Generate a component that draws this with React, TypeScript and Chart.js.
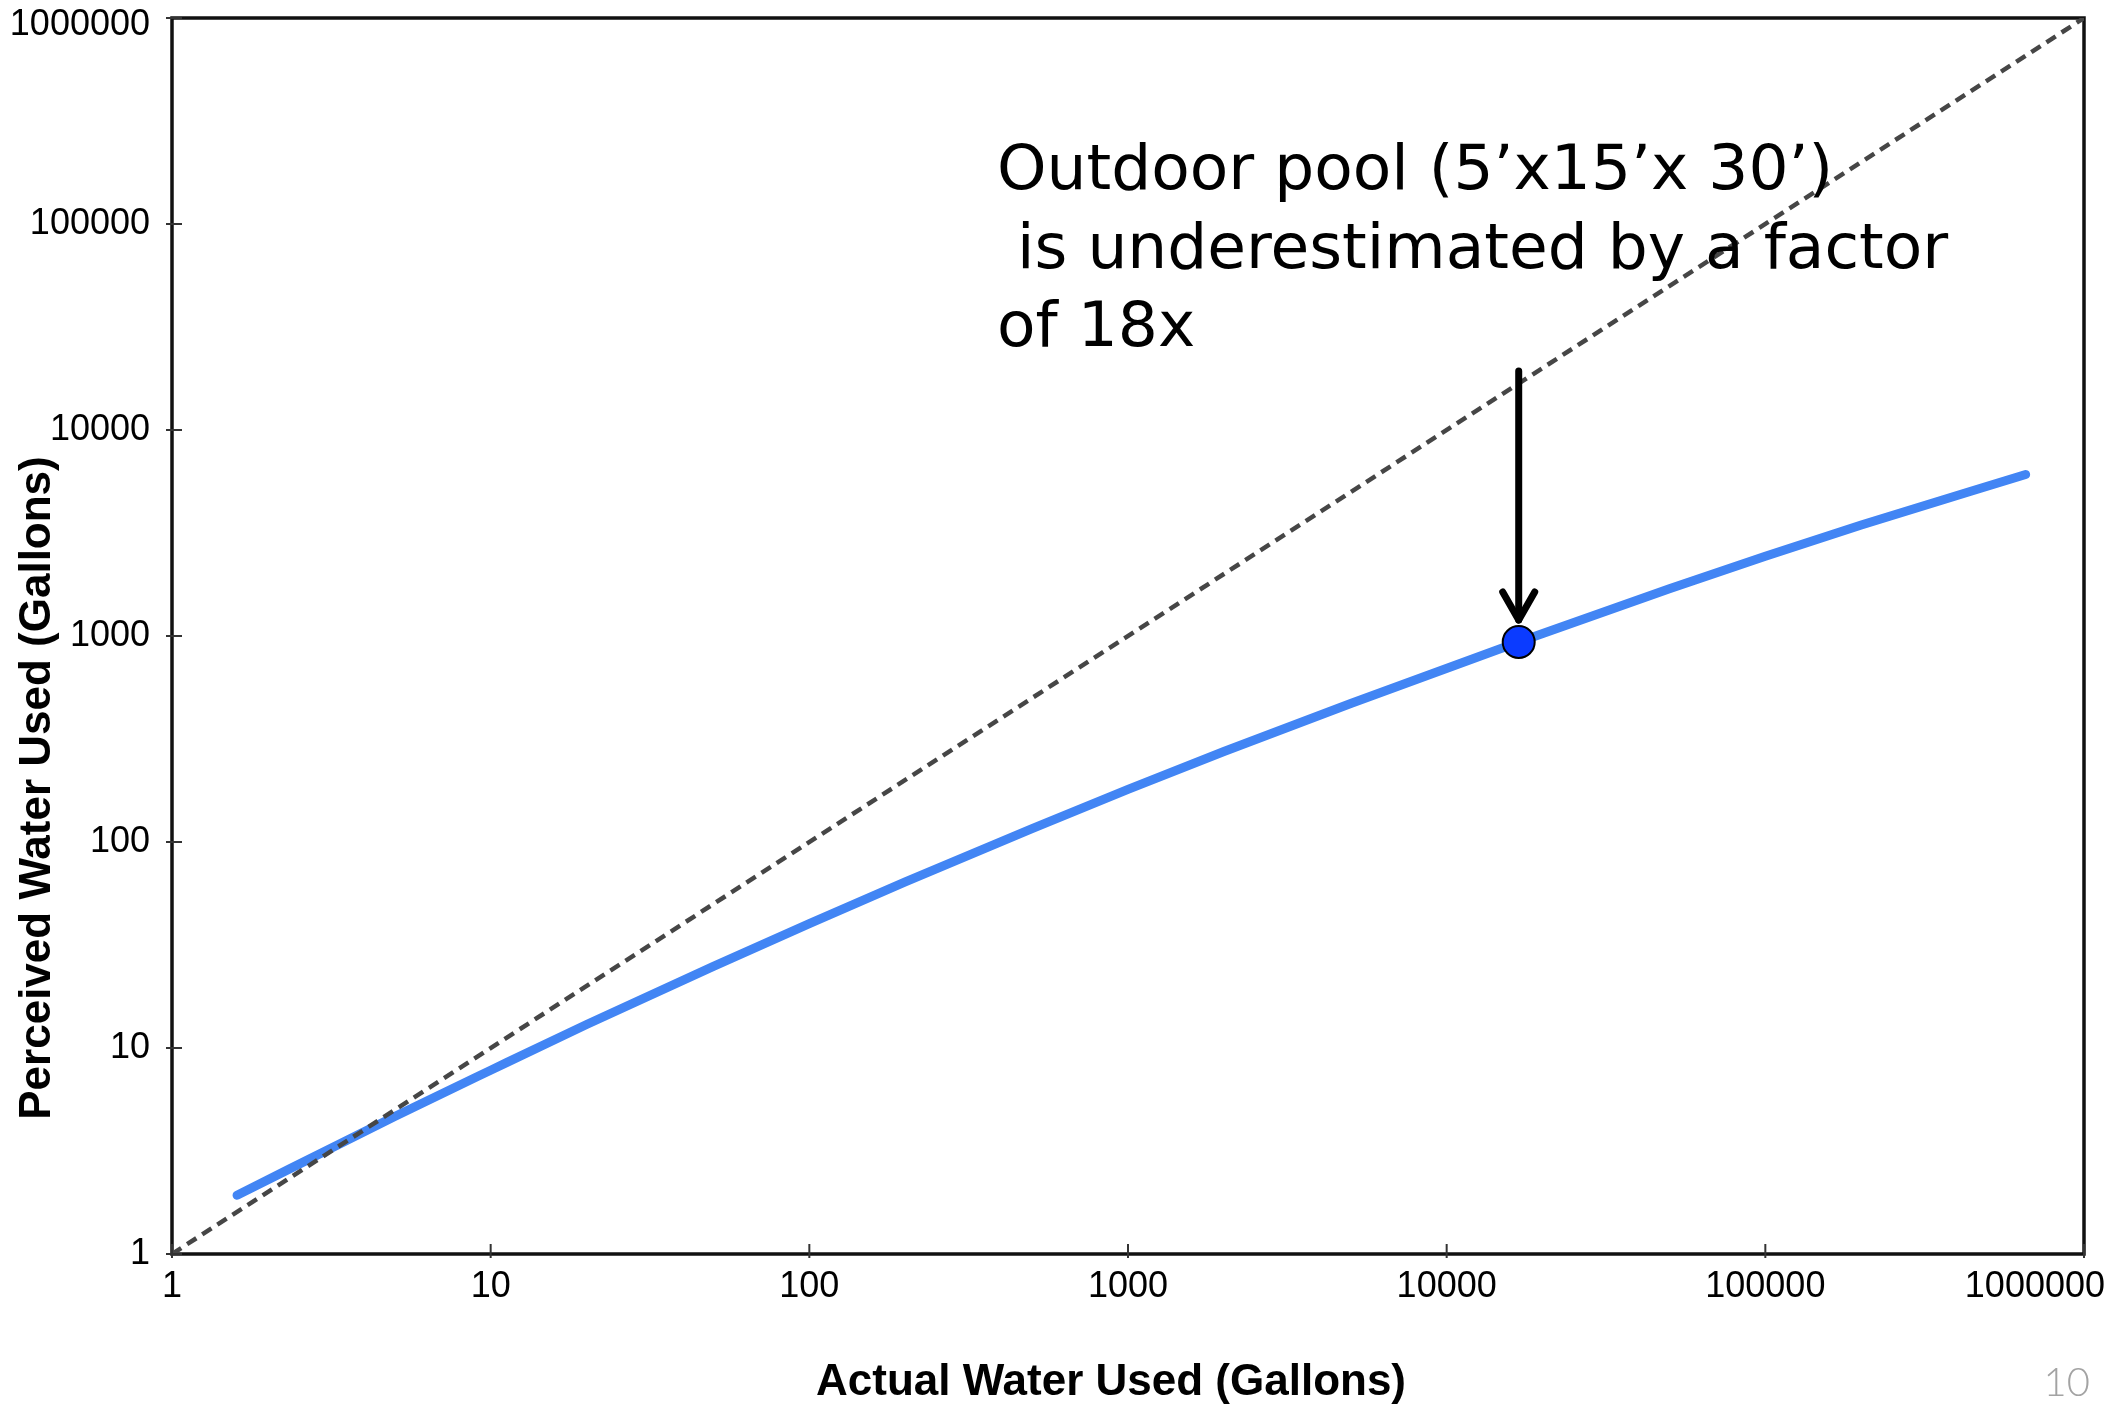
import React, { useEffect, useRef } from "react";
import { Chart, registerables } from "chart.js";

Chart.register(...registerables);

// Decade ticks shared by both logarithmic axes
const DECADES = [1, 10, 100, 1000, 10000, 100000, 1000000];

// Perceived vs. actual water use curve (gallons)
const ACTUAL_GALLONS = [1.6, 5, 10, 20, 50, 100, 200, 500, 1000, 2000, 5000, 16830, 50000, 100000, 200000, 656000];
const PERCEIVED_GALLONS = [1.93, 4.65, 7.8, 13, 24.9, 40.2, 64, 116, 180, 275, 470, 935, 1695, 2440, 3460, 6080];

// Perfect-estimate reference line
const IDENTITY_X = [1, 1000000];
const IDENTITY_Y = [1, 1000000];

// Highlighted outdoor pool
const POOL_ACTUAL = 16830;
const POOL_FACTOR = 18;
const POOL_PERCEIVED = POOL_ACTUAL / POOL_FACTOR;

const NOTE_LINES = ["Outdoor pool (5\u2019x15\u2019x 30\u2019)", " is underestimated by a factor", "of 18x"];
const X_TITLE = "Actual Water Used (Gallons)";
const Y_TITLE = "Perceived Water Used (Gallons)";
const PAGE_NUMBER = "10";

const AXIS_FONT = "'Liberation Sans', Arial, Helvetica, sans-serif";
const NOTE_FONT = "'DejaVu Sans', 'Noto Sans', sans-serif";

const decorations = {
  id: "decorations",
  beforeDatasetsDraw(chart: any) {
    const { ctx, chartArea } = chart;
    const { left, right, top, bottom } = chartArea;
    ctx.save();
    ctx.strokeStyle = "#111";
    ctx.lineWidth = 3.5;
    ctx.strokeRect(left, top, right - left, bottom - top);
    ctx.restore();
  },
  afterDraw(chart: any) {
    const { ctx, chartArea, scales } = chart;
    const { left, bottom } = chartArea;
    const xs = scales.x;
    const ys = scales.y;
    ctx.save();

    // tick marks crossing the axes
    ctx.lineWidth = 2;
    ctx.strokeStyle = "#333";
    DECADES.forEach((v) => {
      const px = xs.getPixelForValue(v);
      ctx.beginPath();
      ctx.moveTo(px, bottom - 10);
      ctx.lineTo(px, bottom + 4);
      ctx.stroke();
      const py = ys.getPixelForValue(v);
      ctx.beginPath();
      ctx.moveTo(left - 6, py);
      ctx.lineTo(left + 10, py);
      ctx.stroke();
    });

    // tick labels, kept inside the canvas at the ends of each axis
    ctx.font = `36px ${AXIS_FONT}`;
    ctx.fillStyle = "#000";
    ctx.textBaseline = "middle";
    ctx.textAlign = "right";
    DECADES.forEach((v) => {
      const py = ys.getPixelForValue(v);
      ctx.fillText(String(v), left - 22, Math.max(py, 25));
    });
    ctx.textAlign = "center";
    DECADES.forEach((v) => {
      const label = String(v);
      const w = ctx.measureText(label).width;
      const px = xs.getPixelForValue(v);
      ctx.fillText(label, Math.min(px, chart.width - 7 - w / 2), bottom + 33);
    });

    // axis titles
    ctx.font = `bold 44px ${AXIS_FONT}`;
    ctx.textAlign = "center";
    ctx.textBaseline = "middle";
    ctx.fillText(X_TITLE, 1111, 1383);
    ctx.save();
    ctx.translate(38, 788);
    ctx.rotate(-Math.PI / 2);
    ctx.fillText(Y_TITLE, 0, 0);
    ctx.restore();

    // annotation text
    ctx.font = `63px ${NOTE_FONT}`;
    ctx.fillStyle = "#000";
    ctx.textAlign = "left";
    ctx.textBaseline = "alphabetic";
    const baselines = [189, 268, 346];
    NOTE_LINES.forEach((line, i) => ctx.fillText(line, 997, baselines[i]));

    // arrow pointing at the pool
    const ax = xs.getPixelForValue(POOL_ACTUAL);
    const ay = ys.getPixelForValue(POOL_PERCEIVED);
    ctx.strokeStyle = "#000";
    ctx.lineWidth = 7;
    ctx.lineCap = "round";
    ctx.lineJoin = "round";
    ctx.beginPath();
    ctx.moveTo(ax, ay - 271);
    ctx.lineTo(ax, ay - 22);
    ctx.stroke();
    ctx.beginPath();
    ctx.moveTo(ax - 16, ay - 50);
    ctx.lineTo(ax, ay - 22);
    ctx.lineTo(ax + 16, ay - 50);
    ctx.stroke();

    // page number
    ctx.font = `300 40px Lato, ${NOTE_FONT}`;
    ctx.fillStyle = "#a3a3a3";
    ctx.textAlign = "right";
    ctx.fillText(PAGE_NUMBER, 2090, 1396);

    ctx.restore();
  },
};

function squeezeX(scale: any) {
  scale.height = 152;
  scale.paddingLeft = 0;
  scale.paddingRight = 0;
}

function squeezeY(scale: any) {
  scale.width = 172;
  scale.paddingTop = 0;
  scale.paddingBottom = 0;
}

function decadeTicks(scale: any) {
  scale.ticks = DECADES.map((v) => ({ value: v }));
}

export default function App() {
  const canvasRef = useRef<HTMLCanvasElement | null>(null);

  useEffect(() => {
    const canvas = canvasRef.current;
    if (!canvas) return;
    const chart = new Chart(canvas, {
      type: "scatter",
      data: {
        datasets: [
          {
            label: "Outdoor pool",
            data: [{ x: POOL_ACTUAL, y: POOL_PERCEIVED }],
            showLine: false,
            pointRadius: 16,
            pointBackgroundColor: "#0b3bff",
            pointBorderColor: "#000",
            pointBorderWidth: 2,
            order: 0,
          },
          {
            label: "Actual = Perceived",
            data: IDENTITY_X.map((x, i) => ({ x, y: IDENTITY_Y[i] })),
            showLine: true,
            borderColor: "#464646",
            borderWidth: 4.5,
            borderDash: [11, 7],
            pointRadius: 0,
            order: 1,
          },
          {
            label: "Perceived water use",
            data: ACTUAL_GALLONS.map((x, i) => ({ x, y: PERCEIVED_GALLONS[i] })),
            showLine: true,
            borderColor: "#4285f4",
            borderWidth: 9,
            borderCapStyle: "round",
            borderJoinStyle: "round",
            cubicInterpolationMode: "monotone",
            pointRadius: 0,
            order: 2,
          },
        ],
      } as any,
      options: {
        animation: false,
        responsive: false,
        devicePixelRatio: 1,
        layout: { padding: { top: 12, right: 28, left: 0, bottom: 0 } },
        plugins: {
          legend: { display: false },
          tooltip: { enabled: false },
        },
        scales: {
          x: {
            type: "logarithmic",
            position: "bottom",
            min: 1,
            max: 1000000,
            afterBuildTicks: decadeTicks,
            afterFit: squeezeX,
            grid: { display: false, drawTicks: false },
            border: { display: false },
            ticks: { display: false },
          },
          y: {
            type: "logarithmic",
            position: "left",
            min: 1,
            max: 1000000,
            afterBuildTicks: decadeTicks,
            afterFit: squeezeY,
            grid: { display: false, drawTicks: false },
            border: { display: false },
            ticks: { display: false },
          },
        },
      } as any,
      plugins: [decorations],
    });
    return () => chart.destroy();
  }, []);

  return (
    <div style={{ position: "absolute", left: 0, top: 0, width: 2112, height: 1406, background: "#fff" }}>
      <canvas ref={canvasRef} width={2112} height={1406} style={{ width: 2112, height: 1406, display: "block" }} />
    </div>
  );
}
